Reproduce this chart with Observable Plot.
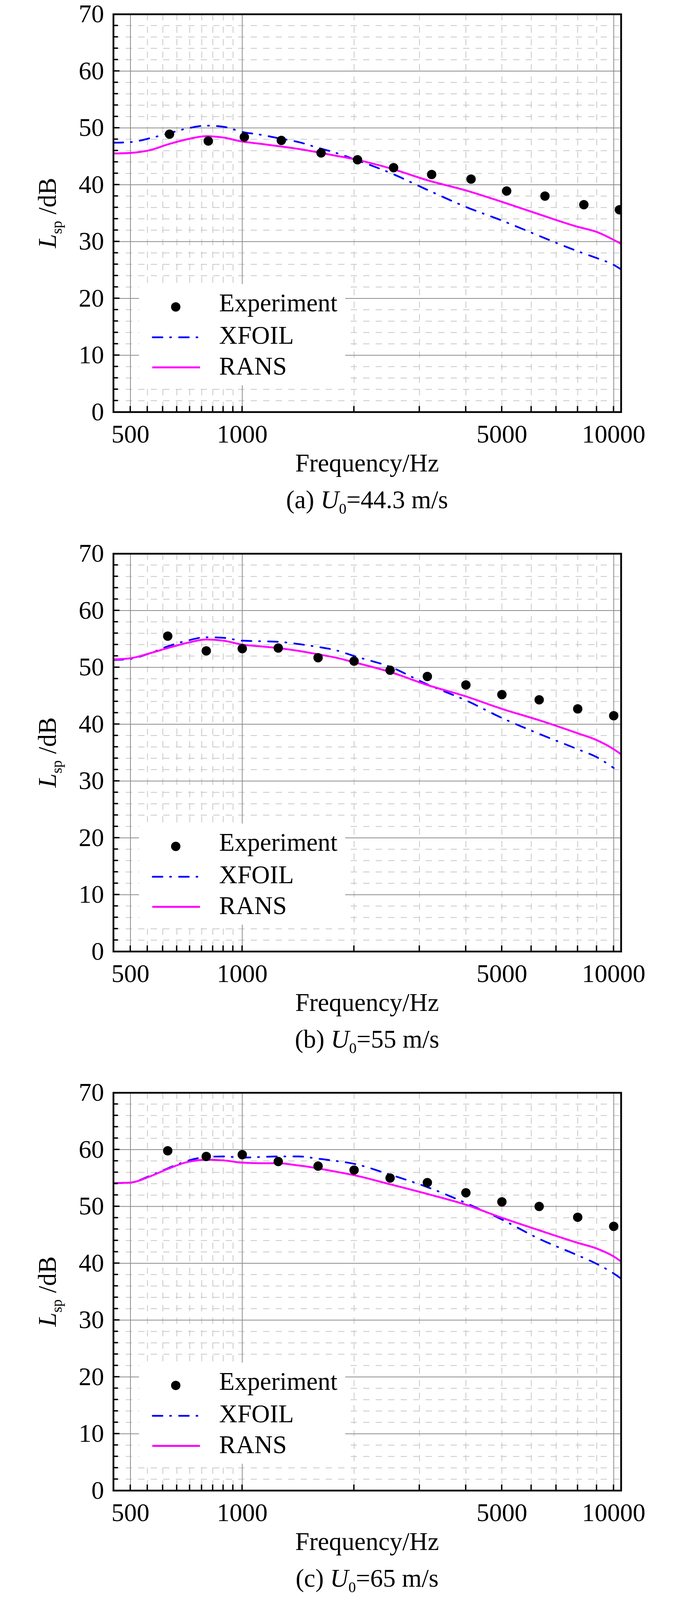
<!DOCTYPE html>
<html><head><meta charset="utf-8">
<script src="https://cdn.jsdelivr.net/npm/d3@7"></script>
<script src="https://cdn.jsdelivr.net/npm/@observablehq/plot@0.6"></script>
<style>
html,body{margin:0;padding:0;background:#fff;overflow:hidden;}
#chart{position:relative;width:1772px;overflow:hidden;}
#chart svg{display:block;position:absolute;left:0;max-width:none;}
</style></head><body><div id="chart"></div>
<script>
// ---------- data ----------
const freqExp  = [630, 800, 1000, 1250, 1600, 2000, 2500, 3150, 4000, 5000, 6300, 8000, 10000];
const freqExpA = [637, 810, 1013, 1274, 1630, 2043, 2555, 3235, 4130, 5150, 6530, 8310, 10360];
const expA = [48.9, 47.7, 48.4, 47.8, 45.6, 44.4, 43.0, 41.8, 41.0, 38.9, 38.0, 36.5, 35.6];
const expB = [55.5, 52.9, 53.3, 53.4, 51.7, 51.1, 49.5, 48.4, 46.9, 45.2, 44.3, 42.7, 41.5];
const expC = [59.8, 58.8, 59.1, 57.9, 57.1, 56.4, 55.0, 54.2, 52.4, 50.8, 50.0, 48.1, 46.5];

const lineFreq = [450, 500, 565, 630, 710, 800, 890, 1000, 1120, 1250, 1420, 1600, 1790, 2000, 2500, 3150, 4000, 5000, 6300, 8000, 9000, 10000, 10470];
const xfoilA = [47.4, 47.5, 48.2, 49.0, 49.9, 50.4, 50.2, 49.3, 48.8, 48.2, 47.5, 46.5, 45.6, 44.5, 42.1, 39.1, 36.1, 33.7, 31.0, 28.3, 27.1, 25.9, 25.1];
const ransA  = [45.5, 45.6, 46.1, 47.1, 48.0, 48.55, 48.3, 47.6, 47.2, 46.8, 46.3, 45.7, 45.1, 44.5, 42.9, 40.8, 39.0, 37.0, 34.8, 32.6, 31.7, 30.3, 29.6];
const xfoilB = [51.3, 51.5, 52.5, 53.7, 54.7, 55.3, 55.2, 54.7, 54.6, 54.5, 54.1, 53.6, 53.0, 52.0, 50.1, 47.0, 44.2, 41.1, 38.3, 35.6, 34.2, 32.3, null];
const ransB  = [51.4, 51.6, 52.5, 53.4, 54.3, 54.9, 54.7, 54.0, 53.7, 53.4, 52.9, 52.3, 51.7, 50.9, 49.2, 46.9, 44.9, 42.7, 40.7, 38.4, 37.2, 35.6, 34.7];
const xfoilC = [54.1, 54.2, 55.4, 56.7, 58.0, 58.7, 58.8, 58.6, 58.7, 58.8, 58.8, 58.4, 58.0, 57.5, 55.6, 53.4, 50.6, 47.7, 44.3, 41.4, 39.9, 38.2, 37.3];
const ransC  = [54.1, 54.2, 55.3, 56.6, 57.8, 58.2, 58.1, 57.7, 57.6, 57.6, 57.2, 56.7, 56.1, 55.5, 53.9, 52.2, 50.3, 48.0, 45.8, 43.6, 42.6, 41.2, 40.3];

const xTickLabels = [500, 1000, 5000, 10000];
const xMajorGrid  = [500, 1000, 10000];
const xMinorTicks = [555.6, 611.1, 666.7, 722.2, 777.8, 833.3, 888.9, 944.4, 2000, 3000, 4000, 5000, 6000, 7000, 8000, 9000];
const yTickLabels = [0, 10, 20, 30, 40, 50, 60, 70];
const yMajorGrid  = [10, 20, 30, 40, 50, 60];
const yMinorGrid  = [2,4,6,8,12,14,16,18,22,24,26,28,32,34,36,38,42,44,46,48,52,54,56,58,62,64,66,68];
const yAllTicks   = [2,4,6,8,10,12,14,16,18,20,22,24,26,28,30,32,34,36,38,40,42,44,46,48,50,52,54,56,58,60,62,64,66,68];

const legendLabels = ["Experiment", "XFOIL", "RANS"];
const captions = [
  {tag: "(a) ", speed: "=44.3 m/s"},
  {tag: "(b) ", speed: "=55 m/s"},
  {tag: "(c) ", speed: "=65 m/s"}
];

const panels = [
  {fExp: freqExpA, exp: expA, xfoil: xfoilA, rans: ransA},
  {fExp: freqExp,  exp: expB, xfoil: xfoilB, rans: ransB},
  {fExp: freqExp,  exp: expC, xfoil: xfoilC, rans: ransC}
];

// ---------- layout / styles ----------
const FULL_H = 4207;
const vh = window.innerHeight || document.documentElement.clientHeight || FULL_H;
const H = Math.min(FULL_H, vh > 2000 ? vh : FULL_H);
const k = H / FULL_H;                 // vertical fit factor for the visible viewport
const FONT = "'Liberation Serif', 'Times New Roman', Times, 'DejaVu Serif', serif";
const BLUE = "#0000ff", MAGENTA = "#ff00ff";
const DASHDOT = "25,19.5,2.5,20.5";
const L = 290, R = 1590;
const T = 37 * k, B = 1083 * k;
const STEP = 1418 * k;

function addText(sel, x, y, anchor) {
  return sel.append("text").attr("x", x).attr("y", y).attr("text-anchor", anchor)
    .attr("font-family", FONT).attr("font-size", 65).attr("fill", "black").attr("stroke", "none");
}

function makePanel(p, idx) {
  const top = idx * STEP;
  const height = idx < 2 ? STEP : H - top;
  const rows = lineFreq.map((f, i) => ({f, xfoil: p.xfoil[i], rans: p.rans[i]}));
  const pts = p.fExp.map((f, i) => ({f, v: p.exp[i]}));
  const chart = Plot.plot({
    width: 1772, height,
    marginLeft: L, marginRight: 1772 - R, marginTop: T, marginBottom: height - B,
    style: {fontFamily: FONT, fontSize: "65px", background: "white", color: "black"},
    x: {type: "log", domain: [450, 10470]},
    y: {domain: [0, 70]},
    marks: [
      Plot.gridY(yMinorGrid, {stroke: "#c8c8c8", strokeOpacity: 1, strokeWidth: 2, strokeDasharray: "16,16"}),
      Plot.gridX(xMinorTicks, {stroke: "#c8c8c8", strokeOpacity: 1, strokeWidth: 2, strokeDasharray: "16,16"}),
      Plot.gridY(yMajorGrid, {stroke: "#8c8c8c", strokeOpacity: 1, strokeWidth: 2}),
      Plot.gridX(xMajorGrid, {stroke: "#8c8c8c", strokeOpacity: 1, strokeWidth: 2}),
      Plot.axisX(xTickLabels, {tickSize: 0, tickPadding: 33 * k, tickFormat: d => String(d), label: null, fontSize: 65}),
      Plot.axisY(yTickLabels, {tickSize: 0, tickPadding: 24, label: null, fontSize: 65}),
      Plot.line(rows, {x: "f", y: "xfoil", stroke: BLUE, strokeWidth: 4.5, strokeDasharray: DASHDOT, strokeLinecap: "round", curve: "monotone-x", clip: true}),
      Plot.line(rows, {x: "f", y: "rans", stroke: MAGENTA, strokeWidth: 4.8, curve: "monotone-x", clip: true}),
      Plot.dot(pts, {x: "f", y: "v", r: 12, fill: "black", stroke: "none", clip: true}),
      Plot.frame({stroke: "black", strokeWidth: 4.5})
    ]
  });

  const sx = chart.scale("x"), sy = chart.scale("y");
  const svg = d3.select(chart);
  svg.style("top", `${top}px`);

  // inward ticks
  const g = svg.append("g").attr("stroke", "black").attr("stroke-width", 3.5);
  yAllTicks.forEach(v => {
    const y = sy.apply(v);
    g.append("line").attr("x1", L).attr("x2", L + (v % 10 === 0 ? 16 : 12)).attr("y1", y).attr("y2", y);
  });
  [...xMajorGrid, ...xMinorTicks].forEach(f => {
    const x = sx.apply(f);
    g.append("line").attr("x1", x).attr("x2", x).attr("y1", B).attr("y2", B - 15);
  });

  // legend
  const lg = svg.append("g");
  lg.append("rect").attr("x", 356).attr("y", 747 * k).attr("width", 528).attr("height", 266 * k).attr("fill", "white");
  lg.append("circle").attr("cx", 450).attr("cy", 807 * k).attr("r", 12).attr("fill", "black");
  lg.append("line").attr("x1", 391).attr("x2", 508).attr("y1", 887 * k).attr("y2", 887 * k)
    .attr("stroke", BLUE).attr("stroke-width", 4.5).attr("stroke-dasharray", DASHDOT).attr("stroke-linecap", "round");
  lg.append("line").attr("x1", 390).attr("x2", 512).attr("y1", 966 * k).attr("y2", 966 * k)
    .attr("stroke", MAGENTA).attr("stroke-width", 5);
  [819, 904, 985].forEach((yb, i) => addText(lg, 561, yb * k, "start").text(legendLabels[i]));

  // y label
  const yl = svg.append("text").attr("transform", `translate(143,${(T + B) / 2}) rotate(-90)`)
    .attr("text-anchor", "middle").attr("font-family", FONT).attr("font-size", 65).attr("fill", "black");
  yl.append("tspan").attr("font-style", "italic").text("L");
  yl.append("tspan").attr("font-size", 38).attr("dy", 15).text("sp");
  yl.append("tspan").attr("dy", -15).text(" /dB");

  // x label
  addText(svg, (L + R) / 2, 1240 * k, "middle").text("Frequency/Hz");

  // caption
  const cap = addText(svg, (L + R) / 2, 1336 * k, "middle");
  cap.append("tspan").text(captions[idx].tag);
  cap.append("tspan").attr("font-style", "italic").text("U");
  cap.append("tspan").attr("font-size", 38).attr("dy", 14).text("0");
  cap.append("tspan").attr("dy", -14).text(captions[idx].speed);

  return chart;
}

const root = document.getElementById("chart");
root.style.height = `${H}px`;
panels.forEach((p, i) => root.appendChild(makePanel(p, i)));
</script>
</body></html>
